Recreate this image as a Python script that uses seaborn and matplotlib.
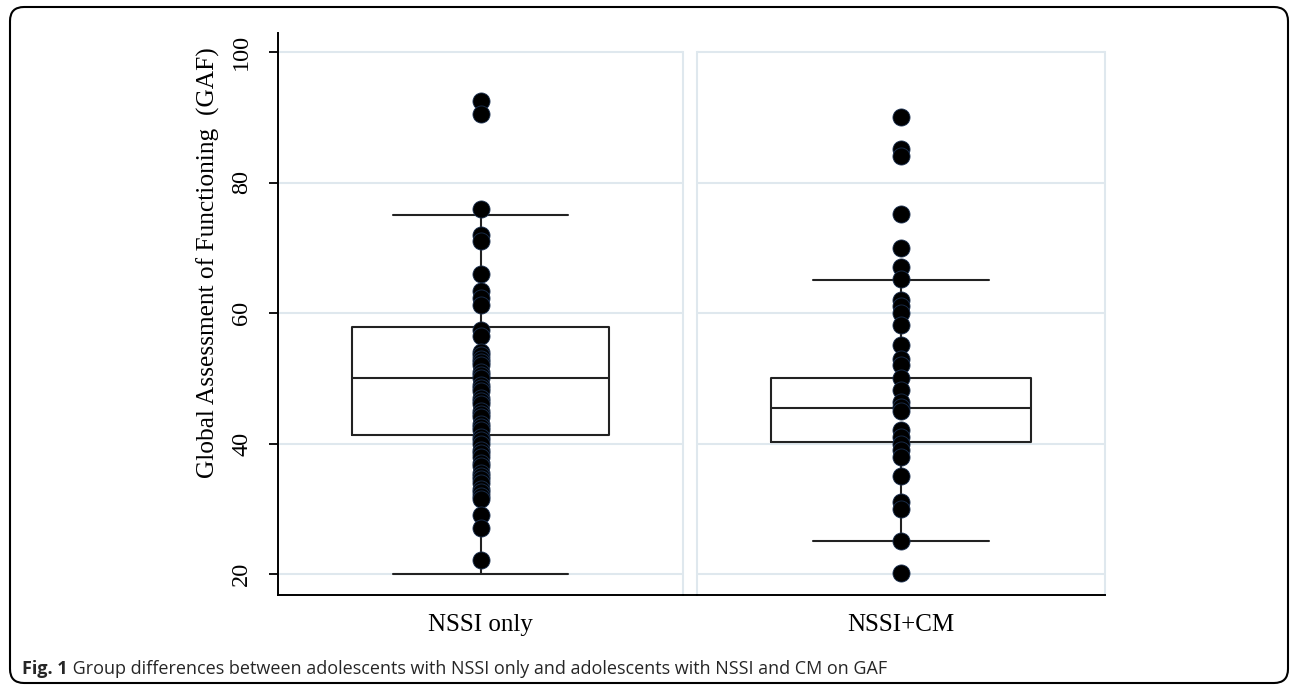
import numpy as np
import pandas as pd
import matplotlib
matplotlib.use("Agg")
import matplotlib.pyplot as plt
import seaborn as sns
from matplotlib.patches import FancyBboxPatch
from matplotlib.lines import Line2D

# ---------------- data ----------------
groups = ["NSSI only", "NSSI+CM"]
gaf_nssi_only = [92.5, 90.5, 76, 72, 71, 66, 63.3, 62.3, 61.2, 57.4, 56.4,
                 54, 53.5, 53, 52.5, 52, 51, 50.5, 50, 49, 48.5, 48, 47,
                 46.5, 46, 45, 44.5, 44, 43, 42.5, 42, 41, 40.5, 40, 39,
                 38.5, 38, 37, 36.5, 35.5, 35, 34.5, 34, 33, 32.5, 32, 31.5,
                 29, 27, 22.2]
gaf_nssi_cm = [90, 85.2, 84.1, 75.1, 70, 67, 65.2, 62, 61, 60, 58.2, 55.1,
               53, 52, 50, 48.2, 46.4, 45.6, 45, 42, 41, 40, 39, 38, 35,
               31, 30, 25, 20.1]
box_q1 = [41.3, 40.2]
box_median = [50.0, 45.5]
box_q3 = [57.8, 50.0]
whisker_low = [20.0, 25.1]
whisker_high = [75.0, 65.1]
y_ticks = [20, 40, 60, 80, 100]
y_label = "Global Assessment of Functioning  (GAF)"
caption_bold = "Fig. 1"
caption_rest = " Group differences between adolescents with NSSI only and adolescents with NSSI and CM on GAF"

# ---------------- style ----------------
sns.set_theme(style="white")
plt.rcParams['font.family'] = ['Liberation Serif', 'DejaVu Serif']

W, H = 1292, 687
fig = plt.figure(figsize=(W / 100, H / 100), dpi=100)
fig.patch.set_facecolor("white")


def px_axes(x0, x1, ytop, ybot):
    return fig.add_axes([x0 / W, 1 - ybot / H, (x1 - x0) / W, (ybot - ytop) / H])


axes = [px_axes(278, 683, 33, 595), px_axes(697, 1105, 33, 595)]
ylo, yhi = 20 - 21 / 6.525, 100 + 19 / 6.525
grid_c = "#dfe8ee"
line_c = "#222222"
series = [gaf_nssi_only, gaf_nssi_cm]

for i, ax in enumerate(axes):
    ax.set_facecolor("white")
    stats = [dict(med=box_median[i], q1=box_q1[i], q3=box_q3[i],
                  whislo=whisker_low[i], whishi=whisker_high[i], fliers=[])]
    lp = dict(color=line_c, linewidth=1.5)
    ax.bxp(stats, positions=[0], widths=0.637, capwidths=0.43,
           showfliers=False, boxprops=lp, medianprops=lp,
           whiskerprops=lp, capprops=lp, manage_ticks=False, zorder=2)
    df = pd.DataFrame({"group": groups[i], "GAF": series[i]})
    sns.stripplot(data=df, y="GAF", ax=ax, jitter=False, color="black",
                  size=12.3, edgecolor="#1b3050", linewidth=0.6, zorder=3)
    ax.set_xlim(-0.5, 0.5)
    ax.set_ylim(ylo, yhi)
    ax.set_xticks([])
    ax.set_yticks(y_ticks)
    ax.grid(axis="y", color=grid_c, linewidth=1.5)
    ax.grid(axis="x", visible=False)
    ax.set_axisbelow(True)
    ax.set_ylabel("")
    ax.set_xlabel(groups[i], fontsize=18, color="black")
    ax.xaxis.set_label_coords(0.5, -0.033)
    ax.xaxis.label.set_va("top")
    ax.spines["top"].set_visible(False)
    ax.spines["bottom"].set_color("black")
    ax.spines["bottom"].set_linewidth(1.4)
    ax.spines["right"].set_color(grid_c)
    ax.spines["right"].set_linewidth(1.5)
    ax.spines["right"].set_bounds(ylo, 100)
    if i == 0:
        ax.spines["left"].set_color("black")
        ax.spines["left"].set_linewidth(1.4)
        ax.tick_params(axis="y", direction="out", length=6.5, width=1.3,
                       color="black", pad=12, labelsize=17.5, labelrotation=90,
                       left=True, labelcolor="black")
        for lbl in ax.get_yticklabels():
            lbl.set_va("center")
        ax.set_ylabel(y_label, fontsize=18.3, color="black")
        ax.yaxis.set_label_coords(-0.142, 0.592)
    else:
        ax.spines["left"].set_color(grid_c)
        ax.spines["left"].set_linewidth(1.5)
        ax.spines["left"].set_bounds(ylo, 100)
        ax.tick_params(axis="y", left=False, labelleft=False)

# continuous x-axis line across the panel gap
fig.add_artist(Line2D([683 / W, 697 / W], [1 - 595 / H] * 2,
                      color="black", linewidth=1.4))

# figure frame
frame = FancyBboxPatch((0.10, 0.04), 12.78, 6.76,
                       boxstyle="round,pad=0,rounding_size=0.14",
                       transform=fig.dpi_scale_trans, fill=False,
                       edgecolor="black", linewidth=1.5)
fig.add_artist(frame)

# caption
cap_fam = ["Open Sans", "DejaVu Sans"]
t1 = fig.text(22 / W, 1 - 669 / H, caption_bold, fontsize=13,
              fontweight="bold", family=cap_fam, va="center", ha="left")
fig.canvas.draw()
bb = t1.get_window_extent()
fig.text(bb.x1 / W, 1 - 669 / H, caption_rest, fontsize=13,
         family=cap_fam, va="center", ha="left")

fig.savefig("out.png", dpi=100)
